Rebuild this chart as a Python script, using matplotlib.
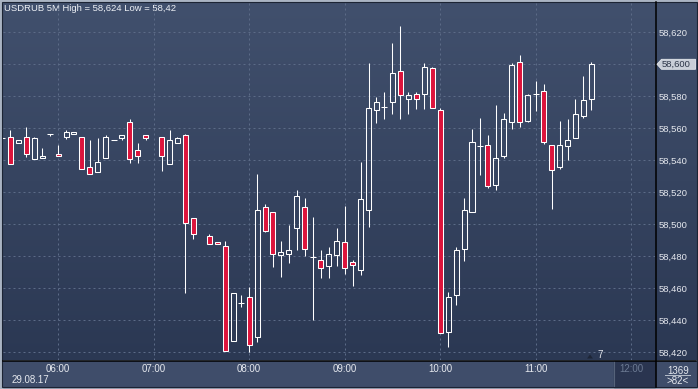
import numpy as np
import matplotlib
matplotlib.use("Agg")
import matplotlib.pyplot as plt
from matplotlib.patches import Rectangle, Polygon

plt.rcParams['font.family'] = ['Liberation Sans', 'DejaVu Sans']

# 5-minute bars, bar 0 = 05:30 (bars 18 and 24 have no data)
bar_idx = [-1, 0, 1, 2, 3, 4, 5, 6, 7, 8, 9, 10, 11, 12, 13, 14, 15, 16, 17,
           19, 20, 21, 22, 23, 25, 26, 27, 28, 29, 30, 31, 32, 33, 34, 35, 36,
           37, 38, 39, 40, 41, 42, 43, 44, 45, 46, 47, 48, 49, 50, 51, 52, 53,
           54, 55, 56, 57, 58, 59, 60, 61, 62, 63, 64, 65, 66, 67, 68, 69, 70,
           71, 72, 73]
opens = [58.5535, 58.5542, 58.5508, 58.5542, 58.5404, 58.5410, 58.5560, 58.5435,
         58.5542, 58.5560, 58.5542, 58.5354, 58.5323, 58.5410, 58.5523, 58.5535,
         58.5635, 58.5460, 58.5554, 58.5542, 58.5373, 58.5504, 58.5554, 58.5035,
         58.4923, 58.4885, 58.4860, 58.4266, 58.4504, 58.4542, 58.4292, 58.5104,
         58.5073, 58.4804, 58.4810, 58.4973, 58.5104, 58.4792, 58.4773, 58.4735,
         58.4804, 58.4885, 58.4760, 58.4710, 58.5085, 58.5710, 58.5729, 58.5760,
         58.5954, 58.5779, 58.5810, 58.5810, 58.5973, 58.5710, 58.4323, 58.4554,
         58.4842, 58.5073, 58.5490, 58.5492, 58.5242, 58.5423, 58.5635, 58.6010,
         58.5642, 58.5813, 58.5829, 58.5492, 58.5354, 58.5485, 58.5535, 58.5673,
         58.5779]
highs = [58.5535, 58.5588, 58.5523, 58.5604, 58.5544, 58.5475, 58.5562, 58.5494,
         58.5588, 58.5573, 58.5542, 58.5525, 58.5538, 58.5556, 58.5523, 58.5554,
         58.5656, 58.5506, 58.5554, 58.5542, 58.5585, 58.5544, 58.5563, 58.5035,
         58.4935, 58.4885, 58.4894, 58.4567, 58.4556, 58.4606, 58.5313, 58.5125,
         58.5073, 58.4894, 58.4994, 58.5213, 58.5163, 58.5042, 58.4835, 58.4856,
         58.4973, 58.5113, 58.4773, 58.5388, 58.6006, 58.5794, 58.5825, 58.6131,
         58.6240, 58.5823, 58.5823, 58.6006, 58.5979, 58.5723, 58.4574, 58.4854,
         58.5160, 58.5594, 58.5663, 58.5556, 58.5744, 58.5692, 58.6004, 58.6056,
         58.5813, 58.5892, 58.5875, 58.5492, 58.5646, 58.5658, 58.5779, 58.5925,
         58.6013]
lows = [58.5535, 58.5373, 58.5508, 58.5421, 58.5404, 58.5410, 58.5552, 58.5425,
        58.5533, 58.5560, 58.5342, 58.5310, 58.5323, 58.5410, 58.5523, 58.5523,
        58.5383, 58.5383, 58.5523, 58.5333, 58.5373, 58.5504, 58.4567, 58.4908,
        58.4873, 58.4873, 58.4204, 58.4266, 58.4483, 58.4202, 58.4265, 58.4950,
        58.4733, 58.4671, 58.4758, 58.4838, 58.4802, 58.4402, 58.4665, 58.4665,
        58.4735, 58.4690, 58.4615, 58.4683, 58.4983, 58.5633, 58.5658, 58.5690,
        58.5658, 58.5690, 58.5721, 58.5721, 58.5723, 58.4317, 58.4233, 58.4492,
        58.4771, 58.5073, 58.5308, 58.5223, 58.5210, 58.5410, 58.5592, 58.5608,
        58.5635, 58.5708, 58.5502, 58.5092, 58.5342, 58.5402, 58.5535, 58.5660,
        58.5710]
closes = [58.5535, 58.5373, 58.5523, 58.5435, 58.5535, 58.5423, 58.5560, 58.5425,
          58.5573, 58.5573, 58.5342, 58.5310, 58.5385, 58.5542, 58.5523, 58.5554,
          58.5404, 58.5423, 58.5535, 58.5423, 58.5523, 58.5535, 58.5004, 58.4935,
          58.4873, 58.4873, 58.4204, 58.4567, 58.4504, 58.4242, 58.5085, 58.4958,
          58.4810, 58.4823, 58.4835, 58.5173, 58.4842, 58.4792, 58.4723, 58.4810,
          58.4892, 58.4723, 58.4742, 58.5154, 58.5723, 58.5760, 58.5729, 58.5942,
          58.5804, 58.5804, 58.5779, 58.5979, 58.5723, 58.4317, 58.4543, 58.4835,
          58.5085, 58.5510, 58.5490, 58.5235, 58.5410, 58.5654, 58.5992, 58.5635,
          58.5804, 58.5813, 58.5510, 58.5335, 58.5492, 58.5523, 58.5685, 58.5773,
          58.6000]

hour_pos = [6, 18, 30, 42, 54, 66, 78]
hour_labels = ['06:00', '07:00', '08:00', '09:00', '10:00', '11:00', '12:00']
price_ticks = [58.42, 58.44, 58.46, 58.48, 58.50, 58.52, 58.54, 58.56, 58.58, 58.60, 58.62]
last_price = closes[-1]

W, H = 698, 389
fig = plt.figure(figsize=(W / 100, H / 100), dpi=100)

# background / frame drawn in pixel coordinates
bg = fig.add_axes([0, 0, 1, 1])
bg.axis('off')
bg.add_patch(Rectangle((0, 0), W, H, color='#aab4c3', zorder=-2))
top_c = np.array([0x41, 0x50, 0x6d]) / 255
bot_c = np.array([0x2b, 0x38, 0x53]) / 255
t = np.linspace(0, 1, 256)[:, None]
grad = (top_c[None, :] * (1 - t) + bot_c[None, :] * t)[:, None, :]
bg.imshow(grad, extent=(2.5, 696, 360, 2), aspect='auto', interpolation='bilinear', zorder=0)
bg.add_patch(Rectangle((2.5, 361), 693.5, 25.5, color='#3f4d6a', zorder=1))
bg.add_patch(Rectangle((614, 361), 41, 25.5, color='#2a3550', zorder=1))
bg.plot([613.5, 613.5], [361, 386.5], color='#56637a', lw=0.8, zorder=2)
bg.add_patch(Rectangle((2, 1.5), 694.5, 385.5, fill=False, ec='#1c2434', lw=0.8, zorder=2))
bg.plot([2.5, 696], [360.5, 360.5], color='black', lw=1.1, zorder=2)
bg.plot([655.5, 655.5], [2, 386.5], color='black', lw=1.1, zorder=2)

# price marker for the last close
bg.add_patch(Polygon([(657, 64.3), (661.5, 59.3), (695.5, 59.3), (695.5, 69.3), (661.5, 69.3)],
                     closed=True, fc='#c9ced8', ec='#e6e9ee', lw=0.6, zorder=3))
bg.text(662, 64.5, f'{last_price:.3f}'.replace('.', ','), color='#2c3548', fontsize=6.8,
        va='center', ha='left', zorder=4)

# bottom-right counters
bg.text(678, 371, '1369', color='#e6e9ef', fontsize=7, va='center', ha='center', zorder=4)
bg.plot([665, 690], [374.5, 374.5], color='#b8c0cc', lw=0.7, zorder=3)
bg.text(678, 381, '>82<', color='#e6e9ef', fontsize=7, va='center', ha='center', zorder=4)
bg.text(12, 380, '29.08.17', color='#e6e9ef', fontsize=7, va='center', ha='left', zorder=4)
bg.add_patch(Polygon([(587, 358.5), (590, 354.5), (593, 358.5)], closed=True, fc='#1d2536',
                     ec='none', zorder=3))
bg.text(597.5, 355.5, '7', color='#e6e9ef', fontsize=7, va='center', ha='left', zorder=4)

# title
bg.text(4, 8, 'USDRUB 5M High = 58,624 Low = 58,42', color='#eef1f6', fontsize=6.8,
        va='center', ha='left', zorder=4)
bg.set_xlim(0, W)
bg.set_ylim(H, 0)

# main chart axes
ax = fig.add_axes([2.5 / W, (H - 360) / H, (655 - 2.5) / W, (360 - 2) / H])
ax.set_facecolor('none')
for s in ax.spines.values():
    s.set_visible(False)
ax.set_xlim(-0.98, 80.99)
ax.set_ylim(58.415, 58.63875)

grid_kw = dict(color='#5c6b87', lw=0.72, linestyle=(0, (2, 3)), zorder=1)
for p in price_ticks:
    ax.axhline(p, **grid_kw)
for h in hour_pos:
    ax.axvline(h, **grid_kw)

red = '#dc143c'
bw = 0.63
lw = 0.75
for i, o, hi, lo, c in zip(bar_idx, opens, highs, lows, closes):
    top = max(o, c)
    bottom = min(o, c)
    if hi > top:
        ax.vlines(i, top, hi, color='white', lw=lw, zorder=2)
    if lo < bottom:
        ax.vlines(i, lo, bottom, color='white', lw=lw, zorder=2)
    if top - bottom < 1e-6:
        ax.hlines(o, i - bw / 2 - 0.06, i + bw / 2 + 0.06, color='white', lw=lw, zorder=3)
    else:
        fc = red if c < o else 'none'
        ax.add_patch(Rectangle((i - bw / 2, bottom), bw, top - bottom, fc=fc, ec='white',
                               lw=lw, zorder=3))

ax.set_xticks(hour_pos)
ax.set_xticklabels(hour_labels)
ax.tick_params(axis='x', length=0, pad=3, labelsize=7, labelcolor='#e6e9ef')
ax.get_xticklabels()[-1].set_color('#6c7a93')

ax.yaxis.tick_right()
ax.set_yticks(price_ticks)
# the last-price marker covers the 58,600 label
ax.set_yticklabels(['' if abs(p - last_price) < 1e-9 else f'{p:.3f}'.replace('.', ',')
                    for p in price_ticks])
ax.tick_params(axis='y', length=0, pad=3, labelsize=6.8, labelcolor='#e6e9ef')

fig.savefig('out.png', dpi=100)
